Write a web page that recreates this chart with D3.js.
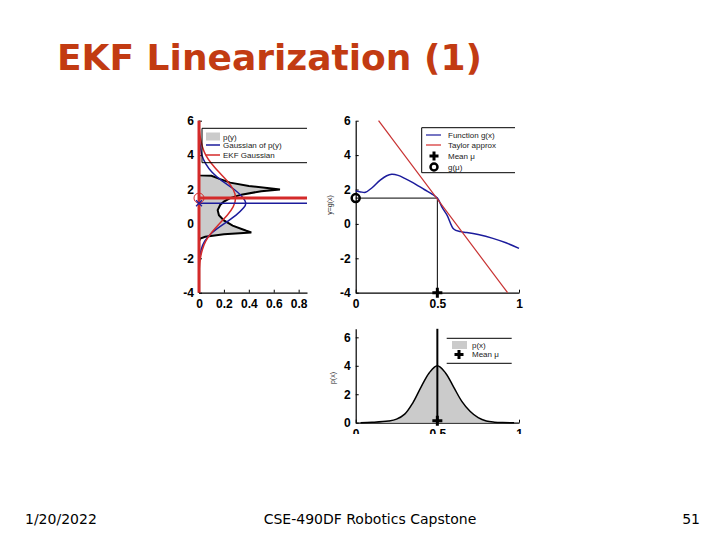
<!DOCTYPE html>
<html>
<head>
<meta charset="utf-8">
<script src="https://cdn.jsdelivr.net/npm/d3@7"></script>
<style>
  body { margin: 0; background: #fff; }
  .tick text { font-family: "Liberation Sans", Arial, sans-serif; font-weight: bold; font-size: 12px; fill: #000; }
  .lg { font-family: "Liberation Sans", Arial, sans-serif; font-size: 8px; fill: #222; }
</style>
</head>
<body>
<div id="chart"></div>
<script>
// ---- data ----
// left panel: densities over y  [y, p]
const pyValues = [[6,0],[3.0,0],[2.82,0],[2.8,0.1],[2.6,0.17],[2.4,0.25],[2.2,0.4],[2.05,0.6],[2.0,0.65],
  [1.9,0.5],[1.7,0.34],[1.5,0.25],[1.3,0.2],[1.1,0.17],[0.8,0.15],[0.5,0.16],[0.2,0.2],[-0.1,0.27],
  [-0.4,0.38],[-0.5,0.42],[-0.6,0.2],[-0.75,0.05],[-0.85,0.01],[-1.0,0],[-4,0]];
const gaussPy = [[5.2,0],[4.5,0.01],[4,0.02],[3.5,0.05],[3,0.1],[2.5,0.18],[2,0.29],[1.5,0.36],[1.2,0.38],
  [1,0.37],[0.5,0.3],[0,0.2],[-0.5,0.1],[-1,0.04],[-1.5,0.015],[-2,0.003],[-2.5,0]];
const ekfGauss = [[5.5,0.002],[5,0.01],[4.5,0.025],[4,0.05],[3.5,0.1],[3,0.16],[2.5,0.23],[2,0.28],[1.5,0.30],
  [1,0.28],[0.5,0.23],[0,0.16],[-0.5,0.1],[-1,0.05],[-1.5,0.025],[-2,0.01],[-2.5,0.002],[-3,0]];
const gaussMean = 1.2;
const ekfMean = 1.5;

// middle panel: function g(x) and its Taylor line  [x, y]
const gx = [[0,1.91],[0.03,1.86],[0.06,1.84],[0.1,2.1],[0.15,2.55],[0.19,2.8],[0.22,2.88],[0.26,2.82],
  [0.3,2.65],[0.35,2.4],[0.42,2.0],[0.47,1.72],[0.5,1.5],[0.53,0.95],[0.56,0.5],[0.6,-0.3],[0.64,-0.45],
  [0.68,-0.5],[0.75,-0.62],[0.84,-0.84],[0.92,-1.1],[1.0,-1.42]];
const taylor = [[0.14,6],[0.93,-4]];
const mu = 0.5;
const gmu = 1.5;

// bottom panel: p(x)  [x, p]
const px = [[0.03,0],[0.1,0.03],[0.2,0.12],[0.25,0.25],[0.3,0.6],[0.35,1.4],[0.4,2.5],[0.45,3.5],[0.5,4.0],
  [0.55,3.5],[0.6,2.5],[0.65,1.5],[0.7,0.8],[0.75,0.35],[0.8,0.12],[0.85,0.04],[0.9,0.01],[0.97,0]];

const yTicks = [-4,-2,0,2,4,6];
const xTicksLeft = [0,0.2,0.4,0.6,0.8];
const xTicksMid = [0,0.5,1];
const yTicksBottom = [0,2,4,6];

const RED = "#d42a2a", BLUE = "#1c1c9c", GREY = "#cbcbcb";

const svg = d3.select("#chart").append("svg").attr("width", 720).attr("height", 540);

// title + footer
svg.append("text").attr("x", 57).attr("y", 70)
  .style("font-family", "DejaVu Sans, Verdana, sans-serif").style("font-weight", "bold")
  .style("font-size", "36px").style("fill", "#c23b12").text("EKF Linearization (1)");
const foot = [["1/20/2022", 25, "start"], ["CSE-490DF Robotics Capstone", 370, "middle"], ["51", 700, "end"]];
foot.forEach(f => svg.append("text").attr("x", f[1]).attr("y", 524).attr("text-anchor", f[2])
  .style("font-family", "DejaVu Sans, Verdana, sans-serif").style("font-size", "14px").style("fill", "#000").text(f[0]));

// scales
const xL = d3.scaleLinear().domain([0, 0.867]).range([199, 307]);
const yL = d3.scaleLinear().domain([-4, 6]).range([292.7, 120.7]);
const xM = d3.scaleLinear().domain([0, 1]).range([355.7, 519]);
const yM = yL;
const xB = xM;
const yB = d3.scaleLinear().domain([0, 6.6]).range([422.7, 328.8]);

const plain = d => String(d);

function axes(g, xs, ys, xt, yt, yPos) {
  g.append("g").attr("transform", "translate(0," + yPos + ")")
    .call(d3.axisBottom(xs).tickValues(xt).tickFormat(plain).tickSizeInner(-3).tickSizeOuter(0).tickPadding(7))
    .call(a => a.select(".domain").attr("stroke-width", 1.2));
  g.append("g").attr("transform", "translate(" + xs.range()[0] + ",0)")
    .call(d3.axisLeft(ys).tickValues(yt).tickFormat(plain).tickSizeInner(-3).tickSizeOuter(0).tickPadding(5))
    .call(a => a.select(".domain").attr("stroke-width", 1.2));
}

function legendBox(x0, x1, y0, y1, left) {
  const g = svg.append("g").attr("stroke", "#000").attr("stroke-width", 1);
  g.append("line").attr("x1", x0).attr("x2", x1).attr("y1", y0).attr("y2", y0);
  g.append("line").attr("x1", x0).attr("x2", x1).attr("y1", y1).attr("y2", y1);
  if (left) g.append("line").attr("x1", x0).attr("x2", x0).attr("y1", y0).attr("y2", y1);
}

function plus(g, x, y, s) {
  g.append("path").attr("d", `M${x - s},${y}H${x + s}M${x},${y - s}V${y + s}`)
    .attr("stroke", "#000").attr("stroke-width", 3).attr("fill", "none");
}

// ---- left panel ----
const left = svg.append("g");
axes(left, xL, yL, xTicksLeft, yTicks, yL(-4));
left.append("path").datum(pyValues)
  .attr("d", d3.area().y(d => yL(d[0])).x0(xL(0)).x1(d => xL(d[1])))
  .attr("fill", GREY);
left.append("path").datum(pyValues)
  .attr("d", d3.line().x(d => xL(d[1])).y(d => yL(d[0])))
  .attr("fill", "none").attr("stroke", "#000").attr("stroke-width", 2);
left.append("path").datum(gaussPy)
  .attr("d", d3.line().curve(d3.curveBasis).x(d => xL(d[1])).y(d => yL(d[0])))
  .attr("fill", "none").attr("stroke", BLUE).attr("stroke-width", 1.5);
left.append("path").datum(ekfGauss)
  .attr("d", d3.line().curve(d3.curveBasis).x(d => xL(d[1])).y(d => yL(d[0])))
  .attr("fill", "none").attr("stroke", RED).attr("stroke-width", 1.5);
left.append("line").attr("x1", xL(0)).attr("x2", xL.range()[1]).attr("y1", yL(gaussMean)).attr("y2", yL(gaussMean))
  .attr("stroke", BLUE).attr("stroke-width", 1.5);
left.append("line").attr("x1", xL(0)).attr("x2", xL.range()[1]).attr("y1", yL(ekfMean)).attr("y2", yL(ekfMean))
  .attr("stroke", RED).attr("stroke-width", 3);
left.append("line").attr("x1", xL(0)).attr("x2", xL(0)).attr("y1", yL(6)).attr("y2", yL(-4))
  .attr("stroke", RED).attr("stroke-width", 3);
left.append("circle").attr("cx", xL(0)).attr("cy", yL(ekfMean)).attr("r", 5)
  .attr("fill", "none").attr("stroke", RED).attr("stroke-width", 1);
left.append("path").attr("d", `M${xL(0) - 3},${yL(gaussMean) - 3}l6,6M${xL(0) + 3},${yL(gaussMean) - 3}l-6,6`)
  .attr("stroke", BLUE).attr("stroke-width", 1.2);

legendBox(202, 307, 128.3, 162.7, true);
svg.append("rect").attr("x", 206).attr("y", 132.5).attr("width", 14).attr("height", 8).attr("fill", GREY);
svg.append("line").attr("x1", 206).attr("x2", 220).attr("y1", 145).attr("y2", 145).attr("stroke", BLUE).attr("stroke-width", 1.5);
svg.append("line").attr("x1", 206).attr("x2", 220).attr("y1", 155).attr("y2", 155).attr("stroke", RED).attr("stroke-width", 1.5);
[["p(y)", 136.7], ["Gaussian of p(y)", 145], ["EKF Gaussian", 155]].forEach(r =>
  svg.append("text").attr("class", "lg").attr("x", 223).attr("y", r[1]).attr("dy", "0.35em").text(r[0]));

// ---- middle panel ----
const mid = svg.append("g");
axes(mid, xM, yM, xTicksMid, yTicks, yM(-4));
mid.append("path").datum([[0, gmu], [mu, gmu], [mu, -4]])
  .attr("d", d3.line().x(d => xM(d[0])).y(d => yM(d[1])))
  .attr("fill", "none").attr("stroke", "#000").attr("stroke-width", 1);
mid.append("path").datum(gx)
  .attr("d", d3.line().curve(d3.curveCatmullRom).x(d => xM(d[0])).y(d => yM(d[1])))
  .attr("fill", "none").attr("stroke", BLUE).attr("stroke-width", 1.5);
mid.append("path").datum(taylor)
  .attr("d", d3.line().x(d => xM(d[0])).y(d => yM(d[1])))
  .attr("fill", "none").attr("stroke", "#c83232").attr("stroke-width", 1.2);
plus(mid, xM(mu), yM(-4), 5);
mid.append("circle").attr("cx", xM(0)).attr("cy", yM(gmu)).attr("r", 4)
  .attr("fill", "none").attr("stroke", "#000").attr("stroke-width", 2.5);
svg.append("text").attr("class", "lg").attr("transform", "translate(332,205) rotate(-90)")
  .attr("text-anchor", "middle").style("font-size", "7px").text("y=g(x)");

legendBox(421.7, 515, 127.7, 172.7, true);
svg.append("line").attr("x1", 426).attr("x2", 441).attr("y1", 135).attr("y2", 135).attr("stroke", BLUE).attr("stroke-width", 1.2);
svg.append("line").attr("x1", 426).attr("x2", 441).attr("y1", 145).attr("y2", 145).attr("stroke", RED).attr("stroke-width", 1.2);
plus(svg, 434, 156, 4.5);
svg.append("circle").attr("cx", 434).attr("cy", 167).attr("r", 3.5).attr("fill", "none").attr("stroke", "#000").attr("stroke-width", 2.5);
[["Function g(x)", 135], ["Taylor approx", 145], ["Mean \u03bc", 156], ["g(\u03bc)", 167]].forEach(r =>
  svg.append("text").attr("class", "lg").attr("x", 448).attr("y", r[1]).attr("dy", "0.35em").text(r[0]));

// ---- bottom panel ----
svg.append("clipPath").attr("id", "cut").append("rect").attr("x", 300).attr("y", 300).attr("width", 260).attr("height", 134);
const bot = svg.append("g").attr("clip-path", "url(#cut)");
axes(bot, xB, yB, xTicksMid, yTicksBottom, yB(0));
bot.append("path").datum(px)
  .attr("d", d3.area().curve(d3.curveCatmullRom).x(d => xB(d[0])).y0(yB(0)).y1(d => yB(d[1])))
  .attr("fill", GREY);
bot.append("path").datum(px)
  .attr("d", d3.line().curve(d3.curveCatmullRom).x(d => xB(d[0])).y(d => yB(d[1])))
  .attr("fill", "none").attr("stroke", "#000").attr("stroke-width", 1.5);
bot.append("line").attr("x1", xB(mu)).attr("x2", xB(mu)).attr("y1", yB(0)).attr("y2", yB(6.6))
  .attr("stroke", "#000").attr("stroke-width", 2);
plus(bot, xB(mu), yB(0) - 2, 5);
svg.append("text").attr("class", "lg").attr("transform", "translate(335,378) rotate(-90)")
  .attr("text-anchor", "middle").style("font-size", "7px").text("p(x)");

legendBox(446.7, 511.7, 338.3, 363.3, false);
svg.append("rect").attr("x", 452).attr("y", 341).attr("width", 15).attr("height", 8).attr("fill", GREY);
plus(svg, 459, 354.5, 4.5);
[["p(x)", 345], ["Mean \u03bc", 354.5]].forEach(r =>
  svg.append("text").attr("class", "lg").attr("x", 472).attr("y", r[1]).attr("dy", "0.35em").text(r[0]));
</script>
</body>
</html>
